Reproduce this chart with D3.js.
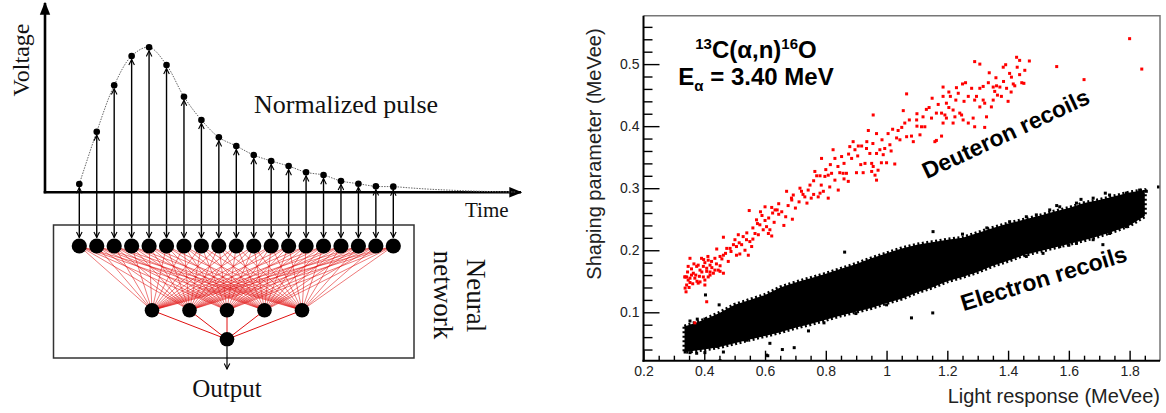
<!DOCTYPE html>
<html>
<head>
<meta charset="utf-8">
<script src="https://cdn.jsdelivr.net/npm/d3@7"></script>
<style>
body { margin: 0; background: #fff; }
svg text { font-family: "Liberation Sans", Arial, sans-serif; }
svg .serif { font-family: "Liberation Serif", "Times New Roman", serif; fill: #111; }
</style>
</head>
<body>
<script>
var width = 1166,
    height = 413;

// ---- left panel: sampled pulse fed to a small network ----
var pulseSamples = [0.057, 0.418, 0.738, 0.940, 1.000, 0.878, 0.659, 0.499, 0.379, 0.319,
    0.257, 0.216, 0.181, 0.138, 0.119, 0.078, 0.059, 0.041, 0.039];
var pulseTail = [0.030, 0.022, 0.016, 0.011, 0.007, 0.004, 0.002];
var hiddenCount = 5;

// ---- right panel: PSD scatter ----
var xTicks = [0.2, 0.4, 0.6, 0.8, 1, 1.2, 1.4, 1.6, 1.8];
var xTickLabels = ["0.2", "0.4", "0.6", "0.8", "1", "1.2", "1.4", "1.6", "1.8"];
var yTicks = [0.1, 0.2, 0.3, 0.4, 0.5];
var yTickLabels = ["0.1", "0.2", "0.3", "0.4", "0.5"];

// electron band (dense core), edges
var bandX = [0.335, 0.40, 0.45, 0.50, 0.55, 0.60, 0.65, 0.70, 0.75, 0.80, 0.85, 0.90, 0.95, 1.00, 1.05, 1.10,
    1.15, 1.20, 1.25, 1.30, 1.35, 1.40, 1.45, 1.50, 1.55, 1.60, 1.65, 1.70, 1.75, 1.80, 1.85];
var bandUpper = [0.077, 0.088, 0.099, 0.112, 0.120, 0.128, 0.140, 0.148, 0.155, 0.162, 0.170, 0.178, 0.187, 0.195, 0.203, 0.209,
    0.213, 0.217, 0.220, 0.228, 0.236, 0.243, 0.249, 0.255, 0.262, 0.268, 0.276, 0.281, 0.287, 0.293, 0.297];
var bandLower = [0.036, 0.040, 0.044, 0.050, 0.056, 0.062, 0.068, 0.075, 0.081, 0.088, 0.095, 0.101, 0.107, 0.115, 0.122, 0.132,
    0.140, 0.150, 0.157, 0.165, 0.175, 0.183, 0.192, 0.198, 0.204, 0.210, 0.216, 0.223, 0.231, 0.240, 0.255];

// electron events off the core
var electronPoints = [
    [0.353, 0.086], [0.377, 0.089], [0.402, 0.089], [0.539, 0.114], [0.583, 0.119], [0.337, 0.036], [0.353, 0.035],
    [0.375, 0.034], [0.402, 0.035], [0.441, 0.045], [0.539, 0.055], [0.404, 0.128], [0.449, 0.112], [0.616, 0.050],
    [0.463, 0.036], [0.452, 0.022], [0.605, 0.031], [0.609, 0.030], [0.657, 0.040], [0.696, 0.043], [0.743, 0.070],
    [0.794, 0.083], [0.540, 0.114], [1.000, 0.112], [0.899, 0.098], [0.838, 0.119], [0.862, 0.197], [1.082, 0.091],
    [1.152, 0.099], [1.405, 0.246], [1.460, 0.254], [1.537, 0.265], [1.570, 0.270], [1.625, 0.276], [1.680, 0.284],
    [1.734, 0.289], [1.789, 0.292], [1.833, 0.297], [1.855, 0.295], [1.460, 0.190], [1.515, 0.195], [1.570, 0.206],
    [1.625, 0.211], [1.680, 0.217], [1.712, 0.209], [1.734, 0.227], [1.789, 0.238], [1.844, 0.260], [1.351, 0.179],
    [1.296, 0.168], [1.895, 0.302], [1.153, 0.230], [1.285, 0.168], [1.493, 0.257], [1.250, 0.226], [1.330, 0.236],
    [1.560, 0.272], [1.640, 0.282], [1.720, 0.292], [1.600, 0.208], [1.760, 0.236], [1.820, 0.252]
];

// deuteron recoils
var deuteronPoints = [
    [0.548, 0.264], [0.572, 0.249], [0.600, 0.248], [0.622, 0.269], [0.633, 0.265], [0.640, 0.265], [0.625, 0.260],
    [0.583, 0.241], [0.605, 0.238], [0.594, 0.233], [0.616, 0.233], [0.611, 0.227], [0.622, 0.223], [0.567, 0.227],
    [0.578, 0.225], [0.463, 0.221], [0.501, 0.217], [0.512, 0.225], [0.528, 0.222], [0.539, 0.217], [0.550, 0.214],
    [0.474, 0.203], [0.485, 0.203], [0.496, 0.209], [0.506, 0.206], [0.523, 0.209], [0.534, 0.200], [0.556, 0.206],
    [0.545, 0.192], [0.517, 0.194], [0.506, 0.192], [0.441, 0.202], [0.452, 0.190], [0.463, 0.192], [0.435, 0.187],
    [0.424, 0.182], [0.419, 0.176], [0.413, 0.184], [0.402, 0.180], [0.397, 0.174], [0.386, 0.168], [0.408, 0.171],
    [0.375, 0.174], [0.353, 0.187], [0.347, 0.174], [0.364, 0.163], [0.342, 0.157], [0.353, 0.155], [0.336, 0.157],
    [0.391, 0.187], [0.397, 0.157], [0.413, 0.157], [0.430, 0.163], [0.435, 0.168], [0.463, 0.163], [0.446, 0.168],
    [0.479, 0.182], [0.380, 0.176], [0.419, 0.165],
    [0.337, 0.157], [0.347, 0.152], [0.342, 0.144], [0.358, 0.160], [0.369, 0.155], [0.353, 0.148], [0.380, 0.147],
    [0.402, 0.152], [0.408, 0.166], [0.419, 0.160], [0.452, 0.166], [0.402, 0.144], [0.340, 0.133], [0.408, 0.117],
    [0.369, 0.083], [0.386, 0.149], [0.337, 0.139],
    [0.345, 0.165], [0.358, 0.170], [0.366, 0.178], [0.372, 0.160], [0.384, 0.158], [0.392, 0.165], [0.398, 0.185],
    [0.412, 0.190], [0.425, 0.172], [0.440, 0.178], [0.452, 0.175], [0.458, 0.186], [0.470, 0.195], [0.488, 0.198],
    [0.362, 0.146], [0.350, 0.140], [0.376, 0.150],
    [0.515, 0.212], [0.540, 0.228], [0.560, 0.236], [0.575, 0.243], [0.590, 0.256], [0.612, 0.252], [0.630, 0.245],
    [0.645, 0.258], [0.600, 0.270], [0.585, 0.262], [0.560, 0.218],
    [0.655, 0.262], [0.668, 0.254], [0.676, 0.272], [0.688, 0.281], [0.700, 0.268], [0.712, 0.278], [0.725, 0.290],
    [0.738, 0.276], [0.752, 0.284], [0.662, 0.240], [0.690, 0.250], [0.645, 0.275],
    [0.720, 0.295], [0.742, 0.297], [0.760, 0.312], [0.785, 0.305], [0.800, 0.330], [0.815, 0.338], [0.840, 0.335],
    [0.860, 0.340], [0.875, 0.355], [0.905, 0.352], [0.915, 0.338], [0.860, 0.315], [0.760, 0.290],
    [1.290, 0.504], [1.250, 0.468], [1.186, 0.463], [1.280, 0.461], [1.236, 0.453], [1.210, 0.448], [1.186, 0.448],
    [1.269, 0.448], [1.290, 0.442], [1.066, 0.452], [1.228, 0.442], [1.197, 0.437], [1.131, 0.427], [1.164, 0.421],
    [1.181, 0.421], [1.192, 0.418], [1.219, 0.426], [1.241, 0.421], [1.247, 0.418], [1.225, 0.415], [1.197, 0.413],
    [1.148, 0.413], [1.099, 0.410], [1.060, 0.405], [1.115, 0.399], [1.126, 0.399], [1.219, 0.405], [1.269, 0.405],
    [1.285, 0.413], [1.252, 0.410], [1.186, 0.405], [0.956, 0.418], [0.940, 0.393], [0.967, 0.388], [1.038, 0.393],
    [1.066, 0.383], [1.110, 0.386], [1.082, 0.384], [1.044, 0.378], [1.033, 0.381], [1.164, 0.377], [1.159, 0.375],
    [1.181, 0.384], [1.088, 0.375], [0.890, 0.375], [0.907, 0.368], [0.918, 0.368], [0.934, 0.364], [1.011, 0.370],
    [0.978, 0.362], [0.994, 0.364], [0.879, 0.367], [0.896, 0.362], [0.945, 0.356], [0.967, 0.356], [0.989, 0.354],
    [0.983, 0.341], [1.000, 0.341], [1.027, 0.339], [0.885, 0.348], [0.852, 0.351], [0.824, 0.362], [0.830, 0.348],
    [0.786, 0.348], [0.929, 0.340], [0.951, 0.340], [0.956, 0.335], [0.972, 0.329], [0.962, 0.321], [0.967, 0.313],
    [0.951, 0.327], [0.923, 0.325], [0.901, 0.325], [0.868, 0.324], [0.857, 0.324], [0.846, 0.325], [0.819, 0.324],
    [0.808, 0.321], [0.797, 0.319], [0.781, 0.320], [0.764, 0.327], [0.770, 0.320], [0.874, 0.311], [0.830, 0.313],
    [0.748, 0.305], [0.715, 0.300], [0.671, 0.295], [0.693, 0.289], [0.731, 0.286], [0.792, 0.295], [0.781, 0.292],
    [0.813, 0.302], [0.841, 0.297], [0.808, 0.284], [0.775, 0.286], [0.687, 0.284],
    [0.935, 0.375], [0.955, 0.372], [0.985, 0.378], [1.005, 0.388], [1.020, 0.395], [1.050, 0.398], [1.075, 0.410],
    [1.100, 0.420], [1.120, 0.415], [1.140, 0.430], [1.170, 0.435], [1.205, 0.455], [1.230, 0.462], [1.260, 0.470],
    [1.150, 0.445], [1.100, 0.400], [1.015, 0.360], [1.055, 0.425], [1.205, 0.430], [1.255, 0.440],
    [1.800, 0.541], [1.840, 0.492], [1.650, 0.475], [1.560, 0.496], [1.428, 0.511], [1.438, 0.506], [1.392, 0.499],
    [1.384, 0.495], [1.307, 0.500], [1.338, 0.486], [1.411, 0.479], [1.438, 0.483], [1.452, 0.469], [1.417, 0.468],
    [1.422, 0.465], [1.395, 0.461], [1.373, 0.463], [1.362, 0.465], [1.351, 0.463], [1.318, 0.464], [1.307, 0.461],
    [1.296, 0.448], [1.356, 0.456], [1.378, 0.448], [1.400, 0.440], [1.351, 0.442], [1.323, 0.437], [1.307, 0.431],
    [1.345, 0.431], [1.318, 0.442], [1.329, 0.415], [1.323, 0.398], [1.290, 0.399],
    [1.335, 0.470], [1.360, 0.478], [1.385, 0.472], [1.405, 0.485], [1.430, 0.495], [1.455, 0.490], [1.470, 0.505],
    [1.365, 0.450], [1.410, 0.455], [1.445, 0.470]
];

var svg = d3.select("body").append("svg")
    .attr("width", width)
    .attr("height", height);

var defs = svg.append("defs");

// open chevron head for the sample arrows
defs.append("marker")
    .attr("id", "chevron")
    .attr("viewBox", "0 -5 10 10")
    .attr("refX", 9)
    .attr("markerUnits", "userSpaceOnUse")
    .attr("markerWidth", 7)
    .attr("markerHeight", 7)
    .attr("orient", "auto")
    .append("path")
    .attr("d", "M1,-4L9,0L1,4")
    .attr("fill", "none")
    .attr("stroke", "#000")
    .attr("stroke-width", 1.6);

// solid head for the plot axes
defs.append("marker")
    .attr("id", "axis-head")
    .attr("viewBox", "0 -5 10 10")
    .attr("refX", 9)
    .attr("markerUnits", "userSpaceOnUse")
    .attr("markerWidth", 13)
    .attr("markerHeight", 13)
    .attr("orient", "auto")
    .append("path")
    .attr("d", "M0,-4L10,0L0,4Z")
    .attr("fill", "#000");

var left = svg.append("g");

var px = d3.scaleLinear().domain([0, pulseSamples.length - 1]).range([79.3, 393.3]);
var pv = d3.scaleLinear().domain([0, 1]).range([192.3, 47.3]);
var baseY = pv(0);

// voltage / time axes
left.append("line")
    .attr("x1", 45).attr("y1", baseY + 1)
    .attr("x2", 45).attr("y2", 3)
    .attr("stroke", "#000").attr("stroke-width", 2.6)
    .attr("marker-end", "url(#axis-head)");
left.append("line")
    .attr("x1", 43.7).attr("y1", baseY)
    .attr("x2", 521).attr("y2", baseY)
    .attr("stroke", "#000").attr("stroke-width", 2.6)
    .attr("marker-end", "url(#axis-head)");

// dotted pulse shape
var pulseLine = d3.line()
    .x(function (d, i) { return px(i); })
    .y(function (d) { return pv(d); })
    .curve(d3.curveCatmullRom);
left.append("path")
    .attr("d", pulseLine(pulseSamples.concat(pulseTail)))
    .attr("fill", "none")
    .attr("stroke", "#666")
    .attr("stroke-width", 1)
    .attr("stroke-dasharray", "1.5,1.2");

// stems from baseline up to each sample
left.selectAll(".stem")
    .data(pulseSamples)
    .enter().append("line")
    .attr("class", "stem")
    .attr("x1", function (d, i) { return px(i); })
    .attr("x2", function (d, i) { return px(i); })
    .attr("y1", baseY)
    .attr("y2", function (d) { return pv(d) + 3.5; })
    .attr("stroke", "#000").attr("stroke-width", 1.4)
    .attr("marker-end", "url(#chevron)");

// arrows down into the input layer
var inputY = 246, hiddenY = 310.3, outputY = 339.3;
left.selectAll(".feed")
    .data(pulseSamples)
    .enter().append("line")
    .attr("class", "feed")
    .attr("x1", function (d, i) { return px(i); })
    .attr("x2", function (d, i) { return px(i); })
    .attr("y1", baseY)
    .attr("y2", inputY - 8.5)
    .attr("stroke", "#000").attr("stroke-width", 1.4)
    .attr("marker-end", "url(#chevron)");

left.selectAll(".sample")
    .data(pulseSamples)
    .enter().append("circle")
    .attr("class", "sample")
    .attr("cx", function (d, i) { return px(i); })
    .attr("cy", function (d) { return pv(d); })
    .attr("r", 3.3)
    .attr("fill", "#000");

left.append("text")
    .attr("class", "serif")
    .attr("transform", "translate(29,60) rotate(-90)")
    .attr("text-anchor", "middle")
    .style("font-size", "24px")
    .text("Voltage");
left.append("text")
    .attr("class", "serif")
    .attr("x", 254).attr("y", 113)
    .style("font-size", "26px")
    .text("Normalized pulse");
left.append("text")
    .attr("class", "serif")
    .attr("x", 465).attr("y", 217)
    .style("font-size", "21px")
    .text("Time");

// network box
left.append("rect")
    .attr("x", 53.5).attr("y", 225)
    .attr("width", 360.5).attr("height", 133)
    .attr("fill", "none")
    .attr("stroke", "#333").attr("stroke-width", 1.5);

var hx = d3.scalePoint().domain(d3.range(hiddenCount)).range([152, 302]);
var outX = hx((hiddenCount - 1) / 2);

var links = [];
pulseSamples.forEach(function (d, i) {
    d3.range(hiddenCount).forEach(function (j) {
        links.push({ x1: px(i), y1: inputY, x2: hx(j), y2: hiddenY });
    });
});
left.selectAll(".link")
    .data(links)
    .enter().append("line")
    .attr("class", "link")
    .attr("x1", function (d) { return d.x1; })
    .attr("y1", function (d) { return d.y1; })
    .attr("x2", function (d) { return d.x2; })
    .attr("y2", function (d) { return d.y2; })
    .attr("stroke", "#e01010")
    .attr("stroke-opacity", 0.8)
    .attr("stroke-width", 0.7);
left.selectAll(".outlink")
    .data(d3.range(hiddenCount))
    .enter().append("line")
    .attr("class", "outlink")
    .attr("x1", function (j) { return hx(j); })
    .attr("y1", hiddenY)
    .attr("x2", outX)
    .attr("y2", outputY)
    .attr("stroke", "#e01010")
    .attr("stroke-width", 1);

left.selectAll(".inode")
    .data(pulseSamples)
    .enter().append("circle")
    .attr("class", "inode")
    .attr("cx", function (d, i) { return px(i); })
    .attr("cy", inputY)
    .attr("r", 7.6)
    .attr("fill", "#000");
left.selectAll(".hnode")
    .data(d3.range(hiddenCount))
    .enter().append("circle")
    .attr("class", "hnode")
    .attr("cx", function (j) { return hx(j); })
    .attr("cy", hiddenY)
    .attr("r", 7.3)
    .attr("fill", "#000");
left.append("circle")
    .attr("cx", outX).attr("cy", outputY)
    .attr("r", 7.3).attr("fill", "#000");
left.append("line")
    .attr("x1", outX).attr("y1", outputY + 7)
    .attr("x2", outX).attr("y2", 369)
    .attr("stroke", "#000").attr("stroke-width", 1.2)
    .attr("marker-end", "url(#chevron)");

left.append("text")
    .attr("class", "serif")
    .attr("x", outX).attr("y", 397)
    .attr("text-anchor", "middle")
    .style("font-size", "25px")
    .text("Output");
left.append("text")
    .attr("class", "serif")
    .attr("transform", "translate(467,295.5) rotate(90)")
    .attr("text-anchor", "middle")
    .style("font-size", "27px")
    .text("Neural");
left.append("text")
    .attr("class", "serif")
    .attr("transform", "translate(434,295) rotate(90)")
    .attr("text-anchor", "middle")
    .style("font-size", "27px")
    .text("network");

// ---- right panel ----
var x = d3.scaleLinear().domain([0.2, 1.9]).range([643.5, 1160]);
var y = d3.scaleLinear().domain([0.022, 0.578]).range([360.7, 15.7]);

defs.append("clipPath").attr("id", "plot-clip")
    .append("rect")
    .attr("x", x(0.2)).attr("y", y(0.578))
    .attr("width", x(1.9) - x(0.2))
    .attr("height", y(0.022) - y(0.578));

var plot = svg.append("g").attr("clip-path", "url(#plot-clip)");

var band = bandX.map(function (v, i) { return { x: v, hi: bandUpper[i], lo: bandLower[i] }; });
var bandArea = d3.area()
    .x(function (d) { return x(d.x); })
    .y0(function (d) { return y(d.lo); })
    .y1(function (d) { return y(d.hi); });
plot.append("path")
    .attr("d", bandArea(band))
    .attr("fill", "#000")
    .attr("stroke", "#000")
    .attr("stroke-width", 4)
    .attr("stroke-dasharray", "2,2.5")
    .attr("stroke-linejoin", "round");

plot.selectAll(".ev")
    .data(electronPoints)
    .enter().append("rect")
    .attr("class", "ev")
    .attr("x", function (d) { return x(d[0]) - 1.5; })
    .attr("y", function (d) { return y(d[1]) - 1.5; })
    .attr("width", 3).attr("height", 3)
    .attr("fill", "#000");

plot.selectAll(".dv")
    .data(deuteronPoints)
    .enter().append("rect")
    .attr("class", "dv")
    .attr("x", function (d) { return x(d[0]) - 1.5; })
    .attr("y", function (d) { return y(d[1]) - 1.5; })
    .attr("width", 3).attr("height", 3)
    .attr("fill", "#ff0000");

// frame
svg.append("path")
    .attr("d", "M" + x(0.2) + "," + y(0.578) + "H" + x(1.9) + "V" + y(0.022))
    .attr("fill", "none")
    .attr("stroke", "#777")
    .attr("stroke-width", 1.5);

var yMinor = d3.range(0.04, 0.57, 0.02).filter(function (v) {
    return Math.abs(v * 10 - Math.round(v * 10)) > 0.01;
});
var xMinor = d3.range(0.25, 1.9, 0.05).filter(function (v) {
    return Math.abs(v * 5 - Math.round(v * 5)) > 0.01;
});

var axisStyle = function (g) {
    g.select(".domain").remove();
    g.selectAll("line").attr("stroke", "#000").attr("stroke-width", 1.4);
    g.selectAll("text").style("font-size", "14px").attr("fill", "#222");
};

svg.append("g")
    .attr("transform", "translate(" + x(0.2) + ",0)")
    .call(d3.axisLeft(y).tickValues(yMinor).tickFormat("").tickSize(-9))
    .call(axisStyle);
svg.append("g")
    .attr("transform", "translate(" + x(0.2) + ",0)")
    .call(d3.axisLeft(y).tickValues(yTicks)
        .tickFormat(function (d, i) { return yTickLabels[i]; })
        .tickSize(-16).tickPadding(4))
    .call(axisStyle);
svg.append("g")
    .attr("transform", "translate(0," + y(0.022) + ")")
    .call(d3.axisBottom(x).tickValues(xMinor).tickFormat("").tickSize(-5))
    .call(axisStyle);
svg.append("g")
    .attr("transform", "translate(0," + y(0.022) + ")")
    .call(d3.axisBottom(x).tickValues(xTicks)
        .tickFormat(function (d, i) { return xTickLabels[i]; })
        .tickSize(-10).tickPadding(5))
    .call(axisStyle);

svg.append("line")
    .attr("x1", x(0.2)).attr("y1", y(0.578))
    .attr("x2", x(0.2)).attr("y2", y(0.022) + 1)
    .attr("stroke", "#000").attr("stroke-width", 2);
svg.append("line")
    .attr("x1", x(0.2) - 1).attr("y1", y(0.022))
    .attr("x2", x(1.9)).attr("y2", y(0.022))
    .attr("stroke", "#000").attr("stroke-width", 2);

svg.append("text")
    .attr("transform", "translate(601,154) rotate(-90)")
    .attr("text-anchor", "middle")
    .style("font-size", "20px")
    .attr("fill", "#222")
    .text("Shaping parameter (MeVee)");
svg.append("text")
    .attr("x", x(1.9)).attr("y", 403)
    .attr("text-anchor", "end")
    .style("font-size", "20px")
    .attr("fill", "#222")
    .text("Light response (MeVee)");

// reaction label
var t1 = svg.append("text")
    .attr("x", 756).attr("y", 58)
    .attr("text-anchor", "middle")
    .style("font-size", "24px")
    .style("font-weight", "bold");
t1.append("tspan").style("font-size", "15px").attr("dy", -9).text("13");
t1.append("tspan").attr("dy", 9).text("C(α,n)");
t1.append("tspan").style("font-size", "15px").attr("dy", -9).text("16");
t1.append("tspan").attr("dy", 9).text("O");

var t2 = svg.append("text")
    .attr("x", 756).attr("y", 85)
    .attr("text-anchor", "middle")
    .style("font-size", "24px")
    .style("font-weight", "bold");
t2.append("tspan").text("E");
t2.append("tspan").style("font-size", "15px").attr("dy", 6).text("α");
t2.append("tspan").attr("dy", -6).text(" = 3.40 MeV");

svg.append("text")
    .attr("transform", "translate(1009,141) rotate(-25)")
    .attr("text-anchor", "middle")
    .style("font-size", "23px")
    .style("font-weight", "bold")
    .text("Deuteron recoils");
svg.append("text")
    .attr("transform", "translate(1046,286) rotate(-17)")
    .attr("text-anchor", "middle")
    .style("font-size", "23px")
    .style("font-weight", "bold")
    .text("Electron recoils");
</script>
</body>
</html>
